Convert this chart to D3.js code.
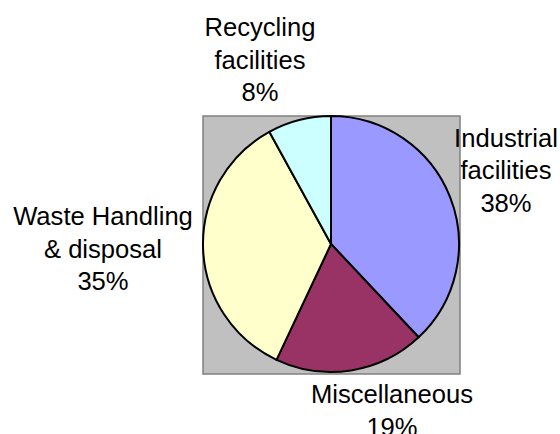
<!DOCTYPE html>
<html>
<head>
<meta charset="utf-8">
<script src="https://cdn.jsdelivr.net/npm/d3@7"></script>
<style>
  html, body { margin: 0; padding: 0; background: #ffffff; overflow: hidden; }
  svg { display: block; }
  text { font-family: "Liberation Sans", Arial, sans-serif; font-size: 25.6px; fill: #000; }
</style>
</head>
<body>
<svg id="chart" width="560" height="434"></svg>
<script>
// Data
const categories = ["Industrial facilities", "Miscellaneous", "Waste Handling & disposal", "Recycling facilities"];
const values = [38, 19, 35, 8];
const labelLines = [
  ["Industrial", "facilities", "38%"],
  ["Miscellaneous", "19%"],
  ["Waste Handling", "& disposal", "35%"],
  ["Recycling", "facilities", "8%"]
];
const colors = ["#9999FF", "#993366", "#FFFFCC", "#CCFFFF"];

const svg = d3.select("#chart");
const plot = { x: 203, y: 116, w: 257, h: 258 };
const cx = 331, cy = 244, r = 128;

svg.append("rect")
  .attr("x", plot.x).attr("y", plot.y)
  .attr("width", plot.w).attr("height", plot.h)
  .attr("fill", "#C0C0C0")
  .attr("stroke", "#808080")
  .attr("stroke-width", 1.5);

const pie = d3.pie().sort(null).value(d => d)(values);
const arc = d3.arc().innerRadius(0).outerRadius(r);

const g = svg.append("g").attr("transform", `translate(${cx},${cy})`);
g.selectAll("path")
  .data(pie)
  .join("path")
  .attr("d", arc)
  .attr("fill", (d, i) => colors[i])
  .attr("stroke", "#000")
  .attr("stroke-width", 2)
  .attr("stroke-linejoin", "round");

// label anchor positions (center x, first baseline y)
const labelPos = [
  [506, 146.5],
  [392, 403],
  [103, 225],
  [260, 36]
];
const lh = 32.5;

labelLines.forEach((lines, i) => {
  const t = svg.append("text")
    .attr("text-anchor", "middle")
    .attr("x", labelPos[i][0])
    .attr("y", labelPos[i][1]);
  lines.forEach((ln, j) => {
    t.append("tspan")
      .attr("x", labelPos[i][0])
      .attr("y", labelPos[i][1] + j * lh)
      .text(ln);
  });
});
</script>
</body>
</html>
